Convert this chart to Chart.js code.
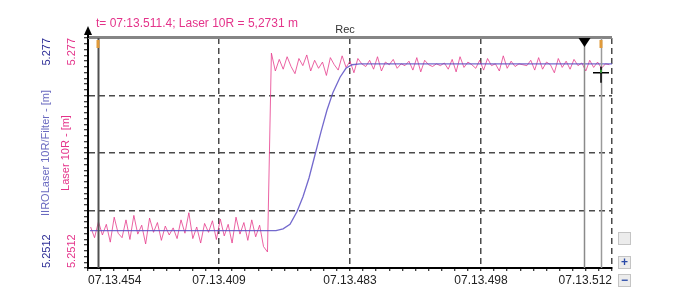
<!DOCTYPE html>
<html lang="en">
<head>
    <meta charset="UTF-8">
    <title>Laser 10R</title>
    <script src="https://cdn.jsdelivr.net/npm/chart.js"></script>
    <style>
        body {
            margin: 0;
            background-color: #fff;
        }
        #wrap {
            width: 675px;
            height: 305px;
        }
    </style>
</head>
<body>
    <div id="wrap">
        <canvas id="laserChart" width="675" height="305"></canvas>
    </div>

    <script>
        // x axis: 4 divisions, one label per division line
        const xLabels = ['07.13.454', '07.13.409', '07.13.483', '07.13.498', '07.13.512'];
        const xMin = 0;
        const xMax = 4;

        // y axis range (both curves share it)
        const yMin = 5.2512;
        const yMax = 5.277;
        const yLabels = ['5.2512', '5.277'];

        const headText = 't= 07:13.511.4; Laser 10R = 5,2731 m';
        const recText = 'Rec';
        const blueTitle = 'IIROLaser 10R/Filter - [m]';
        const pinkTitle = 'Laser 10R - [m]';

        // raw laser signal, sampled every 0.03 division
        const pinkStart = 0.02;
        const pinkStep = 0.03;
        const pinkValues = [
            5.2558, 5.2546, 5.2564, 5.2549, 5.2561, 5.2541, 5.2569, 5.2551, 5.2546, 5.2566,
            5.2544, 5.2571, 5.2550, 5.2560, 5.2539, 5.2568, 5.2552, 5.2563, 5.2543, 5.2559,
            5.2549, 5.2557, 5.2545, 5.2566, 5.2551, 5.2574, 5.2545, 5.2558, 5.2540, 5.2562,
            5.2552, 5.2565, 5.2544, 5.2567, 5.2548, 5.2561, 5.2540, 5.2569, 5.2550, 5.2563,
            5.2543, 5.2566, 5.2547, 5.2560, 5.2536,
            5.2530, 5.2753,
            5.2733, 5.2746, 5.2735, 5.2749, 5.2738, 5.2730, 5.2747, 5.2739, 5.2751, 5.2733,
            5.2745, 5.2736, 5.2743, 5.2728, 5.2748, 5.2740, 5.2734, 5.2750, 5.2737, 5.2744,
            5.2731, 5.2747, 5.2741, 5.2738, 5.2745, 5.2735, 5.2749, 5.2733, 5.2743, 5.2740,
            5.2746, 5.2736, 5.2741, 5.2739, 5.2744, 5.2734, 5.2748, 5.2732, 5.2745, 5.2740,
            5.2738, 5.2741, 5.2739, 5.2742, 5.2735, 5.2746, 5.2732, 5.2749, 5.2737, 5.2743,
            5.2740, 5.2736, 5.2745, 5.2734, 5.2747, 5.2739, 5.2741, 5.2733, 5.2750, 5.2736,
            5.2744, 5.2738, 5.2741, 5.2740, 5.2739, 5.2745, 5.2734, 5.2748, 5.2735, 5.2743,
            5.2740, 5.2731, 5.2747, 5.2737, 5.2744, 5.2735, 5.2746, 5.2739, 5.2742, 5.2733,
            5.2745, 5.2737, 5.2743, 5.2736, 5.2741, 5.2740
        ];

        // filtered signal
        const blueX = [0.015, 1.435, 1.489, 1.542, 1.595, 1.641, 1.687, 1.733, 1.779, 1.824, 1.870, 1.924, 1.969, 2.015, 2.076, 4.0];
        const blueY = [5.2554, 5.2554, 5.2556, 5.2561, 5.2575, 5.2592, 5.2613, 5.2639, 5.2665, 5.2689, 5.2709, 5.2726, 5.2736, 5.2740, 5.2741, 5.2741];

        // cursor lines and the read-out point
        const cursors = [0.076, 3.786, 3.916];
        const readX = 3.916;
        const readY = 5.2731;

        const PINK = '#e4338a';
        const NAVY = '#2e2e96';

        Chart.defaults.font.family = '"Liberation Sans", Arial, sans-serif';

        const pinkData = pinkValues.map((v, i) => ({ x: pinkStart + i * pinkStep, y: v }));
        const blueData = blueX.map((x, i) => ({ x: x, y: blueY[i] }));

        function tenTicks(min, max) {
            const t = [];
            for (let i = 0; i <= 40; i++) t.push({ value: min + (max - min) * i / 40 });
            return t;
        }

        // extra drawing: header, rotated axis text, cursors, top bar
        const decorations = {
            id: 'decorations',
            afterDraw(chart) {
                const ctx = chart.ctx;
                const a = chart.chartArea;
                const xs = chart.scales.x;
                const ys = chart.scales.y;
                ctx.save();

                // grey bar on top of plot
                ctx.fillStyle = '#858585';
                ctx.fillRect(a.left, a.top - 2, a.right - a.left, 3);

                // arrow on left axis
                ctx.strokeStyle = '#000';
                ctx.lineWidth = 2;
                ctx.beginPath();
                ctx.moveTo(a.left, a.top);
                ctx.lineTo(a.left, a.top - 6);
                ctx.stroke();
                ctx.fillStyle = '#000';
                ctx.beginPath();
                ctx.moveTo(a.left, a.top - 12);
                ctx.lineTo(a.left - 4, a.top - 3);
                ctx.lineTo(a.left + 4, a.top - 3);
                ctx.closePath();
                ctx.fill();

                // cursors
                const curColors = ['#505050', '#8a8a8a', '#9a9a9a'];
                cursors.forEach((c, i) => {
                    const px = Math.round(xs.getPixelForValue(c)) + 0.5;
                    ctx.strokeStyle = curColors[i];
                    ctx.lineWidth = i === 0 ? 2 : 1.5;
                    ctx.beginPath();
                    ctx.moveTo(px, a.top);
                    ctx.lineTo(px, a.bottom);
                    ctx.stroke();
                    if (i === 1) {
                        ctx.fillStyle = '#000';
                        ctx.beginPath();
                        ctx.moveTo(px - 6, a.top);
                        ctx.lineTo(px + 6, a.top);
                        ctx.lineTo(px, a.top + 9);
                        ctx.closePath();
                        ctx.fill();
                    } else {
                        ctx.fillStyle = '#e09a3a';
                        ctx.fillRect(px - 2, a.top + 2, 3, 8);
                    }
                });

                // read-out crosshair
                const cx = xs.getPixelForValue(readX);
                const cy = ys.getPixelForValue(readY);
                ctx.strokeStyle = '#000';
                ctx.lineWidth = 1.5;
                ctx.beginPath();
                ctx.moveTo(cx - 8, cy);
                ctx.lineTo(cx + 8, cy);
                ctx.moveTo(cx, cy - 6);
                ctx.lineTo(cx, cy + 10);
                ctx.stroke();
                ctx.fillStyle = '#3a9a3a';
                ctx.fillRect(cx - 1, cy - 3, 2, 3);

                // header and Rec
                ctx.font = '12px "Liberation Sans", Arial, sans-serif';
                ctx.textBaseline = 'middle';
                ctx.textAlign = 'left';
                ctx.fillStyle = PINK;
                ctx.fillText(headText, 96, 24);
                ctx.font = '11px "Liberation Sans", Arial, sans-serif';
                ctx.fillStyle = '#333';
                ctx.textAlign = 'center';
                ctx.fillText(recText, (a.left + a.right) / 2 - 5, 30);

                // rotated y labels and titles
                function vtext(txt, x, y, align, color) {
                    ctx.save();
                    ctx.translate(x, y);
                    ctx.rotate(-Math.PI / 2);
                    ctx.textAlign = align;
                    ctx.textBaseline = 'middle';
                    ctx.fillStyle = color;
                    ctx.fillText(txt, 0, 0);
                    ctx.restore();
                }
                const top = ys.getPixelForValue(yMax);
                const bot = ys.getPixelForValue(yMin);
                const mid = (top + bot) / 2;
                vtext(yLabels[1], 47, top, 'right', NAVY);
                vtext(yLabels[0], 47, bot, 'left', NAVY);
                vtext(yLabels[1], 72, top, 'right', PINK);
                vtext(yLabels[0], 72, bot, 'left', PINK);
                vtext(blueTitle, 46, mid, 'center', '#6a6ac0');
                vtext(pinkTitle, 66, mid, 'center', PINK);

                // small zoom buttons at the right
                const bx = a.right + 6;
                [[a.bottom - 36, ''], [a.bottom - 12, '+'], [a.bottom + 6, '\u2212']].forEach(b => {
                    ctx.fillStyle = '#ececec';
                    ctx.fillRect(bx, b[0], 13, 13);
                    ctx.strokeStyle = '#c4c4c4';
                    ctx.lineWidth = 1;
                    ctx.strokeRect(bx + 0.5, b[0] + 0.5, 12, 12);
                    ctx.fillStyle = '#2a4aa8';
                    ctx.font = 'bold 12px "Liberation Sans", Arial, sans-serif';
                    ctx.textAlign = 'center';
                    ctx.fillText(b[1], bx + 6.5, b[0] + 7);
                });

                ctx.restore();
            }
        };

        const laserChart = new Chart(document.getElementById('laserChart'), {
            type: 'line',
            data: {
                datasets: [
                    {
                        label: 'IIROLaser 10R/Filter',
                        data: blueData,
                        borderColor: 'rgba(90, 79, 196, 0.85)',
                        borderWidth: 1.3,
                        pointRadius: 0,
                        fill: false,
                        tension: 0
                    },
                    {
                        label: 'Laser 10R',
                        data: pinkData,
                        borderColor: 'rgba(230, 60, 140, 0.8)',
                        borderWidth: 1,
                        pointRadius: 0,
                        fill: false,
                        tension: 0
                    }
                ]
            },
            options: {
                responsive: false,
                animation: false,
                devicePixelRatio: 1,
                layout: {
                    padding: { top: 38, right: 63, left: 0, bottom: 0 }
                },
                plugins: {
                    legend: { display: false },
                    tooltip: { enabled: false }
                },
                scales: {
                    x: {
                        type: 'linear',
                        min: xMin,
                        max: xMax,
                        afterBuildTicks: s => { s.ticks = tenTicks(xMin, xMax); },
                        afterFit: s => { s.height = 37; },
                        ticks: {
                            autoSkip: false,
                            maxRotation: 0,
                            align: 'inner',
                            padding: 2,
                            color: '#222',
                            font: { size: 12 },
                            callback: (v, i) => (i % 10 === 0 ? xLabels[i / 10] : '')
                        },
                        grid: {
                            color: c => (c.index % 10 === 0 && c.index > 0 ? '#4a4a4a' : 'transparent'),
                            lineWidth: 1.5,
                            tickColor: '#000',
                            tickLength: 3,
                            tickWidth: 1
                        },
                        border: { color: '#000', width: 2, dash: [6, 4] }
                    },
                    y: {
                        min: yMin,
                        max: yMax,
                        afterBuildTicks: s => { s.ticks = tenTicks(yMin, yMax); },
                        afterFit: s => { s.width = 88; },
                        ticks: { display: false },
                        grid: {
                            color: c => (c.index % 10 === 0 && c.index > 0 && c.index < 40 ? '#4a4a4a' : 'transparent'),
                            lineWidth: 1.5,
                            tickColor: '#000',
                            tickLength: 4,
                            tickWidth: 1
                        },
                        border: { color: '#000', width: 2, dash: [6, 4] }
                    }
                }
            },
            plugins: [decorations]
        });
    </script>
</body>
</html>
